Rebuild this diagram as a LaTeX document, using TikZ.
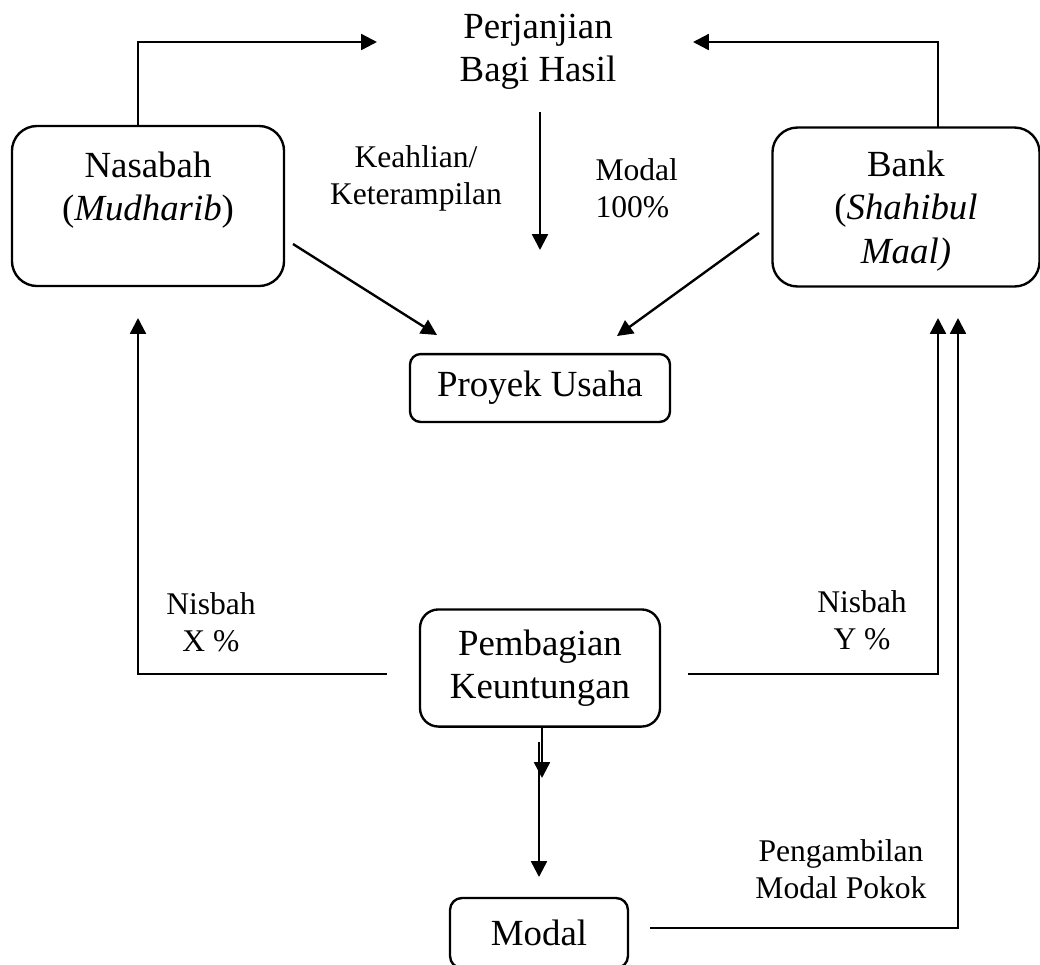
\documentclass[tikz,border=0pt]{standalone}
\usepackage{fontspec}
\setmainfont{Liberation Serif}
\usetikzlibrary{
    arrows.meta
}

\tikzset{
    box/.style={draw, line width=0.9pt, inner sep=0pt, align=center},
    big/.style={font=\fontsize{14}{16.5}\selectfont, inner sep=0pt, align=center},
    small/.style={font=\fontsize{12}{14}\selectfont, inner sep=0pt, align=center},
    flow/.style={line width=0.9pt, -{Triangle[length=6pt, width=6pt]}},
    wire/.style={line width=0.9pt}
}

\begin{document}
\begin{tikzpicture}[x=0.38pt, y=-0.38pt]
    \useasboundingbox (0, 0) rectangle (1040, 964);
    % boxes
    \node (nasabah) [box, rounded corners=9.5pt, minimum width=103.4pt, minimum height=60.8pt] at (148, 206) {};
    \node (nasabahtext) [big] at (148, 190) {Nasabah\\(\textit{Mudharib})};
    \node (bank) [box, rounded corners=9.5pt, minimum width=101.5pt, minimum height=60.4pt] at (906, 207) {};
    \node (banktext) [big] at (906, 211) {Bank\\(\textit{Shahibul}\\\textit{Maal)}};
    \node (proyek) [box, big, draw, rounded corners=4pt, minimum width=98.8pt, minimum height=25.8pt] at (540, 388) {Proyek Usaha};
    \node (pembagian) [box, big, draw, rounded corners=7pt, minimum width=91.2pt, minimum height=44.5pt] at (540, 668) {Pembagian\\Keuntungan};
    \node (modal) [box, big, draw, rounded corners=4.5pt, minimum width=67.6pt, minimum height=26.6pt] at (539, 933) {Modal};
    % labels
    \node (perjanjian) [big] at (538, 52) {Perjanjian\\Bagi Hasil};
    \node (keahlian) [small] at (416, 178) {Keahlian/\\Keterampilan};
    \node (modalseratus) [small, align=left, anchor=west] at (595, 188) {Modal\\100\%};
    \node (nisbahx) [small] at (211, 622) {Nisbah\\X \%};
    \node (nisbahy) [small] at (862, 620) {Nisbah\\Y \%};
    \node (pengambilan) [small] at (841, 869) {Pengambilan\\Modal Pokok};
    % free ends
    \coordinate (nasabahtop) at (138, 126);
    \coordinate (perjanjianleft) at (377, 42);
    \coordinate (banktop) at (938, 128);
    \coordinate (perjanjianright) at (693, 42);
    \coordinate (downtop) at (540, 112);
    \coordinate (downend) at (540, 250);
    \coordinate (nasabahout) at (293, 244);
    \coordinate (proyekinl) at (437, 335);
    \coordinate (bankout) at (759, 233);
    \coordinate (proyekinr) at (617, 336);
    \coordinate (nasabahin) at (138, 318);
    \coordinate (pembagianl) at (387, 674);
    \coordinate (pembagianr) at (688, 674);
    \coordinate (bankin) at (938, 318);
    \coordinate (modalout) at (650, 928);
    \coordinate (bankinpokok) at (958, 318);
    \coordinate (midtop) at (539, 742);
    \coordinate (midend) at (542, 778);
    \coordinate (modalin) at (539, 877);
    % connectors
    \draw[flow] (nasabahtop) |- (perjanjianleft);
    \draw[flow] (banktop) |- (perjanjianright);
    \draw[flow] (downtop) -- (downend);
    \draw[flow] (nasabahout) -- (proyekinl);
    \draw[flow] (bankout) -- (proyekinr);
    \draw[flow] (pembagianl) -| (nasabahin);
    \draw[flow] (pembagianr) -| (bankin);
    \draw[flow] (modalout) -| (bankinpokok);
    \draw[flow] (pembagian.south -| midend) -- (midend);
    \draw[flow] (midtop) -- (modalin);
\end{tikzpicture}
\end{document}
